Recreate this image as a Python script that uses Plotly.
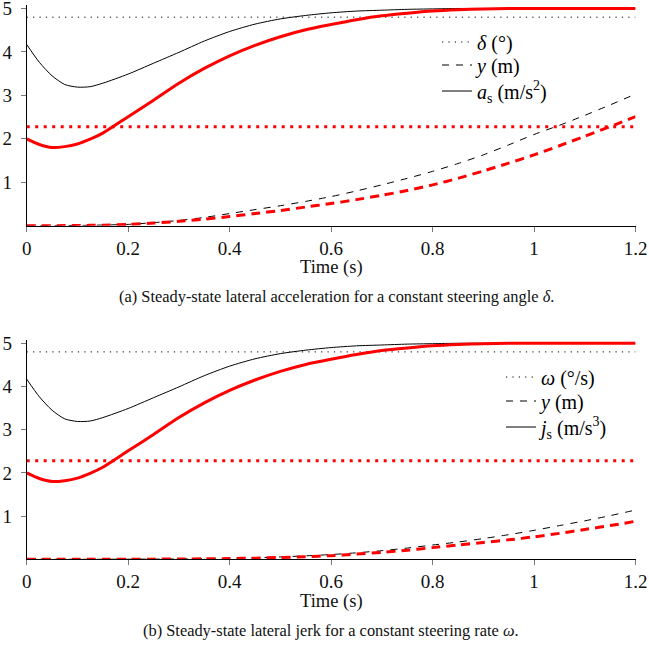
import plotly.graph_objects as go

# ---------------- data ----------------
time_s = [0.0, 0.025, 0.05, 0.075, 0.1, 0.125, 0.15, 0.2, 0.25, 0.3, 0.35, 0.4, 0.45, 0.5,
          0.55, 0.6, 0.65, 0.7, 0.75, 0.8, 0.85, 0.9, 0.95, 1.0, 1.05, 1.1, 1.15, 1.2]

# solid curves (same in both panels)
resp_black = [4.17, 3.76, 3.45, 3.25, 3.19, 3.20, 3.28, 3.49, 3.74, 3.99, 4.25, 4.47, 4.64, 4.76,
              4.84, 4.90, 4.94, 4.96, 4.98, 4.99, 5.0, 5.0, 5.0, 5.0, 5.0, 5.0, 5.0, 5.0]
resp_red = [2.00, 1.87, 1.80, 1.82, 1.88, 1.99, 2.13, 2.51, 2.89, 3.28, 3.62, 3.91, 4.15, 4.35,
            4.51, 4.63, 4.74, 4.83, 4.89, 4.94, 4.97, 4.99, 5.0, 5.0, 5.0, 5.0, 5.0, 5.0]

# input levels (dotted)
input_black = 4.8
input_red = 2.28

# lateral position y (dashed) - panel (a)
ya_black = [0.0, 0.0, 0.0, 0.002, 0.005, 0.01, 0.015, 0.03, 0.07, 0.12, 0.19, 0.28, 0.37, 0.46,
            0.56, 0.67, 0.80, 0.94, 1.09, 1.25, 1.43, 1.63, 1.86, 2.10, 2.31, 2.54, 2.78, 3.03]
ya_red = [0.0, 0.0, 0.0, 0.002, 0.005, 0.008, 0.012, 0.03, 0.06, 0.10, 0.15, 0.21, 0.28, 0.35,
          0.43, 0.51, 0.60, 0.70, 0.81, 0.94, 1.09, 1.26, 1.44, 1.63, 1.84, 2.06, 2.28, 2.51]

# lateral position y (dashed) - panel (b)
yb_black = [0.0, 0.0, 0.0, 0.0, 0.0, 0.0, 0.001, 0.002, 0.005, 0.008, 0.014, 0.022, 0.035, 0.055,
            0.08, 0.11, 0.15, 0.20, 0.26, 0.33, 0.40, 0.48, 0.57, 0.67, 0.78, 0.89, 1.01, 1.14]
yb_red = [0.0, 0.0, 0.0, 0.0, 0.0, 0.0, 0.001, 0.002, 0.004, 0.007, 0.011, 0.017, 0.027, 0.042,
          0.06, 0.085, 0.12, 0.16, 0.21, 0.27, 0.33, 0.39, 0.45, 0.52, 0.60, 0.69, 0.78, 0.88]

x_ticks = [0, 0.2, 0.4, 0.6, 0.8, 1.0, 1.2]
x_tick_labels = ["0", "0.2", "0.4", "0.6", "0.8", "1", "1.2"]
y_ticks = [1, 2, 3, 4, 5]
y_tick_labels = ["1", "2", "3", "4", "5"]

legend_a = ["<i>δ</i> (°)", "<i>y</i> (m)", "<i>a</i><sub>s</sub> (m/s<sup>2</sup>)"]
legend_b = ["<i>ω</i> (°/s)", "<i>y</i> (m)", "<i>j</i><sub>s</sub> (m/s<sup>3</sup>)"]
caption_a = "(a) Steady-state lateral acceleration for a constant steering angle <i>δ</i>."
caption_b = "(b) Steady-state lateral jerk for a constant steering rate <i>ω</i>."
x_title = "Time (s)"

# ---------------- layout constants ----------------
W, H = 649, 651
FONT = "Liberation Serif"
RED = "#ff0000"
X_RANGE = [0, 1.2]
Y_RANGE = [0, 5.08]

x_dom = [26.7 / W, 635.5 / W]
ya_dom = [1 - 225.7 / H, 1 - 5.0 / H]
yb_dom = [1 - 559.3 / H, 1 - 339.8 / H]

DOT_BLACK = "1.2px,5.2px"
DOT_RED = "3px,5.5px"
DASH_BLACK = "7px,7px"
DASH_RED = "9px,6px"

fig = go.Figure()


def add_panel(xa, ya, y_black, y_red):
    tl = [time_s[0], time_s[-1]]
    common = dict(xaxis=xa, yaxis=ya, showlegend=False, hoverinfo="skip", mode="lines")
    fig.add_trace(go.Scatter(x=tl, y=[input_black, input_black],
                             line=dict(color="black", width=1, dash=DOT_BLACK), **common))
    fig.add_trace(go.Scatter(x=tl, y=[input_red, input_red],
                             line=dict(color=RED, width=3, dash=DOT_RED), **common))
    fig.add_trace(go.Scatter(x=time_s, y=y_black, line_shape="spline",
                             line=dict(color="black", width=1, dash=DASH_BLACK, smoothing=0.7), **common))
    fig.add_trace(go.Scatter(x=time_s, y=y_red, line_shape="spline",
                             line=dict(color=RED, width=3, dash=DASH_RED, smoothing=0.7), **common))
    fig.add_trace(go.Scatter(x=time_s, y=resp_black, line_shape="spline",
                             line=dict(color="black", width=1, smoothing=0.7), **common))
    fig.add_trace(go.Scatter(x=time_s, y=resp_red, line_shape="spline",
                             line=dict(color=RED, width=3, smoothing=0.7), **common))


add_panel("x", "y", ya_black, ya_red)
add_panel("x2", "y2", yb_black, yb_red)

# legend rows: one legend per row so the row spacing can match the reference
legend_font = dict(family=FONT, size=20, color="black")
leg_layout = {}
rows = [(legend_a, "x", "y", 437, [42, 65, 91], 1),
        (legend_b, "x2", "y2", 501, [377, 401, 427], 4)]
for labels, xa, ya, lx, ys, start in rows:
    for k, (lab, dash, py) in enumerate(zip(labels, [DOT_BLACK, DASH_BLACK, "solid"], ys)):
        idx = start + k
        name = "legend" if idx == 1 else f"legend{idx}"
        fig.add_trace(go.Scatter(x=[None], y=[None], mode="lines", name=lab, legend=name,
                                 xaxis=xa, yaxis=ya,
                                 line=dict(color="black", width=1, dash=dash)))
        leg_layout[name] = dict(x=lx / W, y=1 - py / H, xanchor="left", yanchor="middle",
                                bgcolor="rgba(0,0,0,0)", borderwidth=0, font=legend_font)

tickfont = dict(family=FONT, size=19, color="#111")


def xaxis(anchor, overlay=None):
    d = dict(range=X_RANGE, anchor=anchor, tickvals=x_ticks, fixedrange=True,
             showgrid=False, zeroline=False, automargin=False)
    if overlay:
        d.update(overlaying=overlay, ticks="inside", ticklen=5, tickcolor="#777",
                 showticklabels=False, showline=False)
    else:
        d.update(domain=x_dom, ticktext=x_tick_labels, ticks="outside", ticklen=5,
                 tickcolor="#777", showline=True, linecolor="black", linewidth=1,
                 tickfont=tickfont, ticklabelstandoff=0, ticklabeloverflow="allow")
    return d


def yaxis(anchor, dom=None, overlay=None):
    d = dict(range=Y_RANGE, anchor=anchor, tickvals=y_ticks, fixedrange=True,
             showgrid=False, zeroline=False, automargin=False)
    if overlay:
        d.update(overlaying=overlay, ticks="inside", ticklen=5, tickcolor="#777",
                 showticklabels=False, showline=False)
    else:
        d.update(domain=dom, ticktext=y_tick_labels, ticks="outside", ticklen=5,
                 tickcolor="#777", showline=True, linecolor="black", linewidth=1,
                 tickfont=tickfont, ticklabelstandoff=5, ticklabeloverflow="allow")
    return d


fig.update_layout(
    width=W, height=H,
    margin=dict(l=0, r=0, t=0, b=0, autoexpand=False),
    paper_bgcolor="white", plot_bgcolor="rgba(0,0,0,0)",
    xaxis=xaxis("y"),
    yaxis=yaxis("x", ya_dom),
    xaxis2=xaxis("y2"),
    yaxis2=yaxis("x2", yb_dom),
    xaxis3=xaxis("y", overlay="x"),
    yaxis3=yaxis("x", overlay="y"),
    xaxis4=xaxis("y2", overlay="x2"),
    yaxis4=yaxis("x2", overlay="y2"),
    annotations=[
        dict(text=x_title, x=331 / W, y=1 - 267 / H, xref="paper", yref="paper",
             showarrow=False, xanchor="center", yanchor="middle",
             font=dict(family=FONT, size=18.5, color="#111")),
        dict(text=x_title, x=331 / W, y=1 - 601 / H, xref="paper", yref="paper",
             showarrow=False, xanchor="center", yanchor="middle",
             font=dict(family=FONT, size=18.5, color="#111")),
        dict(text=caption_a, x=336 / W, y=1 - 296 / H, xref="paper", yref="paper",
             showarrow=False, xanchor="center", yanchor="middle",
             font=dict(family=FONT, size=16.4, color="#111")),
        dict(text=caption_b, x=331 / W, y=1 - 630 / H, xref="paper", yref="paper",
             showarrow=False, xanchor="center", yanchor="middle",
             font=dict(family=FONT, size=16.4, color="#111")),
    ],
    **leg_layout,
)

fig.write_html("out.html", config={"displayModeBar": False, "staticPlot": True},
               post_script="document.body.style.margin='0';document.body.style.overflow='hidden';")
